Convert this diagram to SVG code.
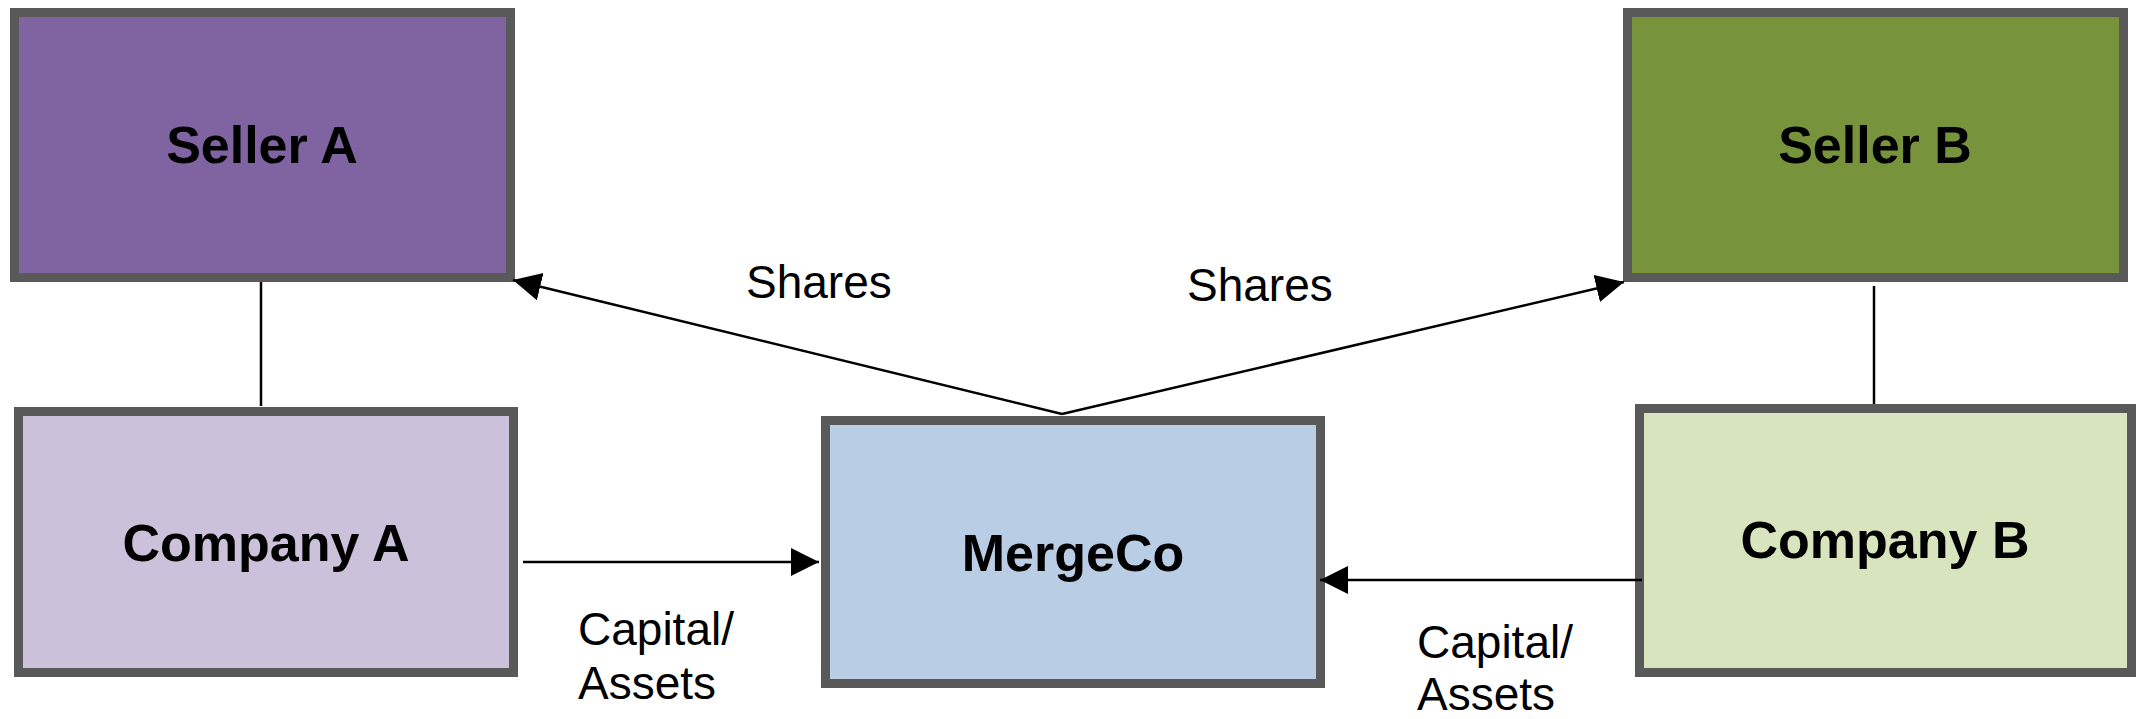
<svg xmlns="http://www.w3.org/2000/svg" width="2136" height="719" viewBox="0 0 2136 719">
  <style>
    .box { stroke: #595959; stroke-width: 9; }
    .lbl { font-family: "Liberation Sans", Arial, sans-serif; font-weight: bold; font-size: 52px; fill: #000; text-anchor: middle; }
    .edge { font-family: "Liberation Sans", Arial, sans-serif; font-size: 46px; fill: #000; }
    .conn { stroke: #000; stroke-width: 2.5; fill: none; }
  </style>
  <defs>
    <marker id="arrow" markerUnits="userSpaceOnUse" markerWidth="30" markerHeight="30" refX="28" refY="14" orient="auto">
      <path d="M0,0 L28,14 L0,28 z" fill="#000"/>
    </marker>
  </defs>
  <rect width="2136" height="719" fill="#fff"/>

  <g id="seller-a">
    <rect class="box" x="14.5" y="12.5" width="496" height="265" fill="#8064A2"/>
    <text class="lbl" x="262" y="163">Seller A</text>
  </g>
  <g id="seller-b">
    <rect class="box" x="1627.5" y="12.5" width="496" height="265" fill="#77933C"/>
    <text class="lbl" x="1875" y="163">Seller B</text>
  </g>
  <g id="company-a">
    <rect class="box" x="18.5" y="411.5" width="495" height="261" fill="#CCC1DA"/>
    <text class="lbl" x="266" y="561">Company A</text>
  </g>
  <g id="mergeco">
    <rect class="box" x="825.5" y="420.5" width="495" height="263" fill="#B9CDE5"/>
    <text class="lbl" x="1073" y="571">MergeCo</text>
  </g>
  <g id="company-b">
    <rect class="box" x="1639.5" y="408.5" width="492" height="264" fill="#D7E4BD"/>
    <text class="lbl" x="1885" y="558">Company B</text>
  </g>

  <g id="connectors">
    <line class="conn" x1="261" y1="282" x2="261" y2="406"/>
    <line class="conn" x1="1874" y1="286" x2="1874" y2="404"/>
    <line class="conn" x1="1062" y1="414" x2="513" y2="280" marker-end="url(#arrow)"/>
    <line class="conn" x1="1062" y1="414" x2="1624" y2="282" marker-end="url(#arrow)"/>
    <line class="conn" x1="523" y1="562" x2="819" y2="562" stroke-width="3" marker-end="url(#arrow)"/>
    <line class="conn" x1="1642" y1="580" x2="1320" y2="580" stroke-width="3" marker-end="url(#arrow)"/>
    <text class="edge" x="746" y="298">Shares</text>
    <text class="edge" x="1187" y="301" font-size="51">Shares</text>
    <text class="edge" x="578" y="645">Capital/</text>
    <text class="edge" x="578" y="699">Assets</text>
    <text class="edge" x="1417" y="658">Capital/</text>
    <text class="edge" x="1417" y="710">Assets</text>
  </g>
</svg>
